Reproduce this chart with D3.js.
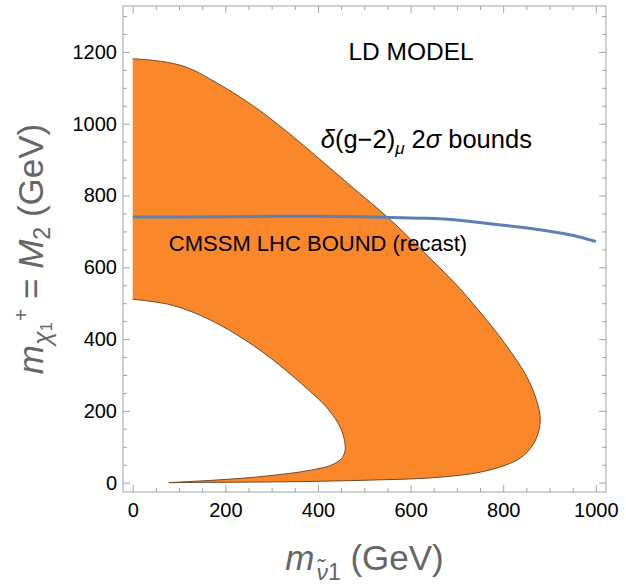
<!DOCTYPE html>
<html>
<head>
<meta charset="utf-8">
<script src="https://cdn.jsdelivr.net/npm/d3@7.9.0/dist/d3.min.js"></script>
<style>
  body { margin: 0; background: #fff; }
  svg { display: block; font-family: "Liberation Sans", Arial, sans-serif; }
</style>
</head>
<body>
<div id="chart"></div>
<script>
// outer edge of the allowed (g-2) band, [m_sneutrino, M2]
const outerEdge = [
  [0, 1181], [60, 1174], [117, 1157], [189, 1108], [261, 1049], [333, 978],
  [405, 900], [477, 820], [549, 741], [621, 652], [700, 550], [722, 518],
  [793, 406], [851, 295], [873, 225], [880, 175], [872, 125], [855, 90],
  [830, 63], [757, 31], [650, 14], [506, 7], [362, 3], [250, 1.5], [160, 0.8], [78, 0]
];
// inner edge (hole), from the bottom tip back up to the axis
const innerEdge = [
  [78, 0], [120, 3], [189, 8], [261, 15], [333, 25], [362, 30], [405, 40],
  [427, 48], [448, 63], [456, 78], [459, 95], [456, 125], [446, 160],
  [428, 195], [410, 222], [365, 275], [297, 348], [225, 412], [150, 464],
  [80, 496], [0, 511]
];
// recast CMSSM LHC bound
const lhcBound = [
  [0, 740], [100, 740], [200, 741], [300, 742], [400, 742], [500, 741],
  [560, 739], [620, 737], [680, 734], [740, 726], [800, 717], [860, 708],
  [920, 696], [960, 686], [1000, 672]
];
const xMajor = [0, 200, 400, 600, 800, 1000];
const xMinor = d3.range(0, 1001, 50).filter((v) => v % 200 !== 0);
const yMajor = [0, 200, 400, 600, 800, 1000, 1200];
const yMinor = d3.range(0, 1301, 50).filter((v) => v % 200 !== 0);

const width = 626;
const height = 584;
const margin = { top: 6, right: 20, bottom: 92, left: 123 };

const svg = d3.select("#chart").append("svg")
  .attr("width", width).attr("height", height);

const x = d3.scaleLinear().domain([-21, 1022])
  .range([margin.left, width - margin.right]);
const y = d3.scaleLinear().domain([-26, 1328])
  .range([height - margin.bottom, margin.top]);

const plotBottom = y.range()[0];
const plotTop = y.range()[1];
const plotLeft = x.range()[0];
const plotRight = x.range()[1];

// band
const curve = d3.line().x((d) => x(d[0])).y((d) => y(d[1])).curve(d3.curveCatmullRom);
const bandPath = curve(outerEdge) + "L" + curve(innerEdge).slice(1) + "Z";
svg.append("path").attr("d", bandPath).attr("fill", "#fa882a");
svg.append("path").attr("d", curve(outerEdge))
  .attr("fill", "none").attr("stroke", "#6e4a2a").attr("stroke-width", 1);
svg.append("path").attr("d", curve(innerEdge))
  .attr("fill", "none").attr("stroke", "#6e4a2a").attr("stroke-width", 1);

svg.append("path").attr("d", curve(lhcBound))
  .attr("fill", "none").attr("stroke", "#5e81b5").attr("stroke-width", 3);

// frame + ticks
const frameColor = "#a3a3a3";
svg.append("rect")
  .attr("x", plotLeft).attr("y", plotTop)
  .attr("width", plotRight - plotLeft)
  .attr("height", plotBottom - plotTop)
  .attr("fill", "none").attr("stroke", frameColor);

function styleAxis(g) {
  g.select(".domain").remove();
  g.selectAll(".tick line").attr("stroke", frameColor);
  g.selectAll("text").attr("fill", "#000").attr("font-size", 20)
    .attr("font-family", "Liberation Sans, Arial, sans-serif");
}

const fmt = d3.format("d");

svg.append("g").attr("transform", `translate(0,${plotBottom})`)
  .call(d3.axisBottom(x).tickValues(xMajor).tickFormat(fmt).tickSize(-7).tickPadding(11))
  .call(styleAxis);
svg.append("g").attr("transform", `translate(0,${plotBottom})`)
  .call(d3.axisBottom(x).tickValues(xMinor).tickSize(-4).tickFormat(""))
  .call(styleAxis);
svg.append("g").attr("transform", `translate(0,${plotTop})`)
  .call(d3.axisTop(x).tickValues(xMajor).tickSize(-7).tickFormat(""))
  .call(styleAxis);
svg.append("g").attr("transform", `translate(0,${plotTop})`)
  .call(d3.axisTop(x).tickValues(xMinor).tickSize(-4).tickFormat(""))
  .call(styleAxis);

svg.append("g").attr("transform", `translate(${plotLeft},0)`)
  .call(d3.axisLeft(y).tickValues(yMajor).tickFormat(fmt).tickSize(-7).tickPadding(6))
  .call(styleAxis);
svg.append("g").attr("transform", `translate(${plotLeft},0)`)
  .call(d3.axisLeft(y).tickValues(yMinor).tickSize(-4).tickFormat(""))
  .call(styleAxis);
svg.append("g").attr("transform", `translate(${plotRight},0)`)
  .call(d3.axisRight(y).tickValues(yMajor).tickSize(-7).tickFormat(""))
  .call(styleAxis);
svg.append("g").attr("transform", `translate(${plotRight},0)`)
  .call(d3.axisRight(y).tickValues(yMinor).tickSize(-4).tickFormat(""))
  .call(styleAxis);

// annotations
svg.append("text").attr("x", x(601)).attr("y", y(1177))
  .attr("text-anchor", "middle").attr("font-size", 24.5).text("LD MODEL");

const dg = svg.append("text").attr("x", x(634)).attr("y", y(932))
  .attr("text-anchor", "middle").attr("font-size", 25.5);
dg.append("tspan").attr("font-style", "italic").text("δ");
dg.append("tspan").text("(g−2)");
dg.append("tspan").attr("font-size", 17).attr("dy", 6).attr("font-style", "italic").text("μ");
dg.append("tspan").attr("dy", -6).text(" 2");
dg.append("tspan").attr("font-style", "italic").text("σ");
dg.append("tspan").text(" bounds");

svg.append("text").attr("x", x(400)).attr("y", y(646))
  .attr("text-anchor", "middle").attr("font-size", 22)
  .text("CMSSM LHC BOUND (recast)");

// axis titles
const labelColor = "#666";
const xl = svg.append("text").attr("x", (plotLeft + plotRight) / 2).attr("y", 570)
  .attr("text-anchor", "middle").attr("font-size", 35).attr("fill", labelColor);
xl.append("tspan").attr("font-style", "italic").text("m");
xl.append("tspan").attr("font-size", 23).attr("dy", 10).attr("dx", 2).attr("font-style", "italic").text("ν\u0303");
xl.append("tspan").attr("font-size", 23).text("1");
xl.append("tspan").attr("dy", -10).text("  (GeV)");

const yl = svg.append("text")
  .attr("transform", `translate(43,${(plotTop + plotBottom) / 2}) rotate(-90)`)
  .attr("text-anchor", "middle").attr("font-size", 35).attr("fill", labelColor);
yl.append("tspan").attr("font-style", "italic").text("m");
yl.append("tspan").attr("font-size", 25).attr("dy", 8).attr("font-style", "italic").text("χ");
yl.append("tspan").attr("font-size", 17).attr("dy", 1).text("1");
yl.append("tspan").attr("font-size", 21).attr("dx", 1).attr("dy", -24).text("+");
yl.append("tspan").attr("dy", 15).text("  = ");
yl.append("tspan").attr("font-style", "italic").text("M");
yl.append("tspan").attr("font-size", 23).attr("dy", 7).text("2");
yl.append("tspan").attr("dy", -7).text(" (GeV)");
</script>
</body>
</html>
